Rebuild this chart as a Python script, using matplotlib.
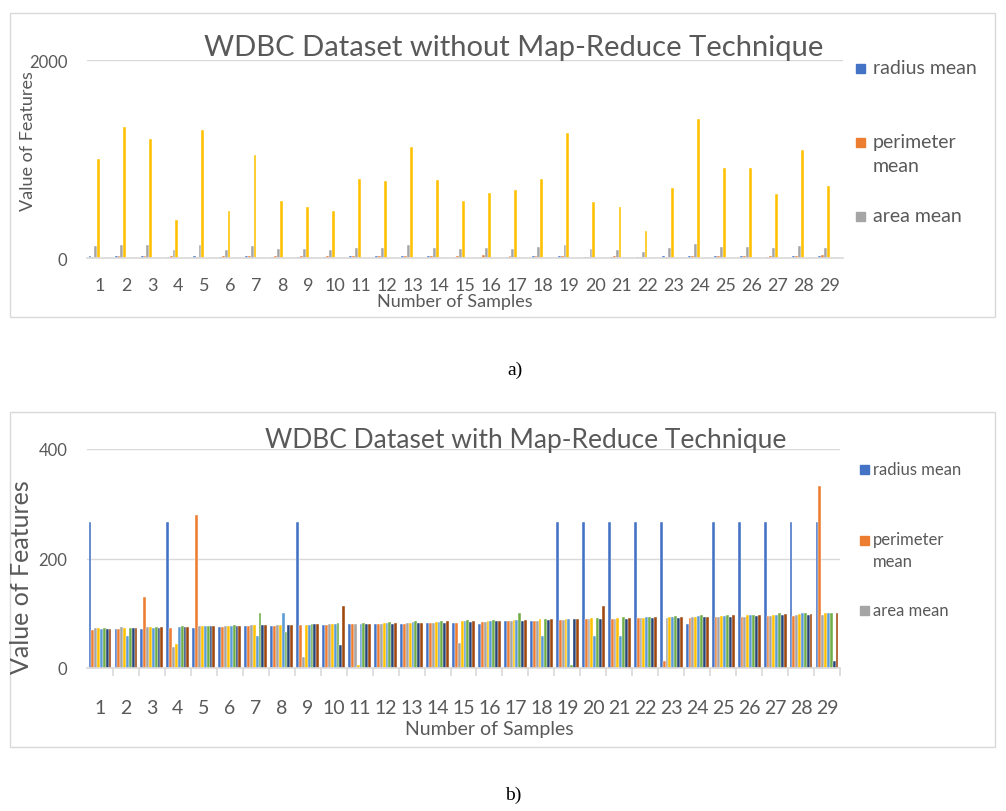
import numpy as np
import matplotlib
matplotlib.use("Agg")
import matplotlib.pyplot as plt
from matplotlib.patches import Rectangle

plt.rcParams["font.family"] = ["Lato", "DejaVu Sans"]

samples = [str(i) for i in range(1, 30)]

# a) without map-reduce (4 features)
radius_a = [18.0, 20.6, 19.7, 11.4, 20.3, 12.5, 18.3, 13.7, 13.0, 12.5, 16.0, 15.8, 19.2, 15.9, 13.7,
            14.5, 14.7, 16.1, 19.8, 13.5, 13.1, 9.5, 15.3, 21.2, 16.7, 17.1, 14.6, 18.6, 15.3]
perim_a = [10.4, 17.8, 21.3, 20.4, 14.3, 15.7, 20.0, 20.8, 21.8, 24.0, 23.2, 17.9, 24.8, 24.0, 22.6,
           27.5, 20.1, 20.7, 22.2, 14.4, 15.7, 12.4, 14.3, 23.0, 21.4, 16.4, 21.5, 20.3, 25.3]
area_a = [122.8, 132.9, 130.0, 77.6, 135.1, 82.6, 119.6, 90.2, 87.5, 84.0, 102.7, 103.6, 132.4, 103.7, 93.6,
          96.7, 94.7, 108.1, 130.0, 87.5, 85.6, 60.3, 102.5, 137.2, 110.0, 116.0, 97.4, 122.1, 102.4]
extra_a = [1001, 1326, 1203, 386, 1297, 477, 1040, 578, 520, 476, 798, 781, 1123, 783, 578,
           659, 685, 799, 1260, 566, 520, 274, 704, 1404, 905, 913, 645, 1094, 732]

# b) with map-reduce (8 features)
s1 = [267, 71, 72, 267, 73, 75, 76, 76, 267, 78, 80, 80, 81, 83, 83,
      80, 86, 86, 267, 267, 267, 267, 267, 80, 267, 267, 267, 267, 267]
s2 = [69, 71, 130, 73, 280, 75, 76, 76, 78, 78, 80, 80, 81, 83, 83,
      84, 86, 86, 87, 89, 90, 91, 12, 92, 93, 93, 95, 95, 333]
s3 = [73, 74, 75, 39, 76, 76, 78, 78, 20, 80, 80, 81, 83, 83, 45,
      84, 86, 86, 87, 89, 90, 91, 91, 93, 93, 94, 95, 96, 97]
s4 = [73, 73, 75, 43, 76, 76, 78, 78, 79, 80, 5, 83, 83, 84, 86,
      86, 87, 89, 90, 91, 91, 92, 93, 94, 95, 96, 97, 98, 100]
s5 = [72, 59, 73, 75, 76, 76, 59, 100, 79, 80, 81, 83, 84, 84, 86,
      86, 87, 59, 90, 59, 59, 93, 93, 95, 95, 96, 97, 100, 100]
s6 = [73, 73, 75, 76, 76, 78, 100, 65, 80, 82, 83, 84, 85, 86, 87,
      87, 100, 90, 5, 91, 93, 93, 95, 96, 96, 97, 100, 100, 100]
s7 = [72, 73, 73, 75, 76, 76, 78, 78, 80, 42, 80, 81, 83, 83, 84,
      86, 86, 87, 89, 90, 90, 92, 92, 93, 94, 95, 96, 97, 12]
s8 = [72, 73, 74, 75, 76, 76, 78, 78, 80, 113, 81, 83, 83, 85, 86,
      86, 87, 89, 90, 113, 92, 93, 93, 94, 96, 96, 98, 98, 100]

colors = ["#4472C4", "#ED7D31", "#A5A5A5", "#FFC000", "#5B9BD5", "#70AD47", "#264478", "#9E480E"]
legend_labels = ["radius mean", "perimeter\nmean", "area mean"]
text_c = "#595959"
grid_c = "#D9D9D9"

W, H = 1006, 812
fig = plt.figure(figsize=(W / 100, H / 100), dpi=100)


def fx(px):
    return px / W


def fy(py):
    return 1 - py / H


def style_axis(ax, ymax, yticks):
    ax.set_ylim(0, ymax)
    ax.set_xlim(-0.5, 28.5)
    ax.set_yticks(yticks)
    ax.yaxis.grid(True, color=grid_c, linewidth=1)
    ax.set_axisbelow(True)
    for s in ["top", "right", "left"]:
        ax.spines[s].set_visible(False)
    ax.spines["bottom"].set_color(grid_c)
    ax.spines["bottom"].set_linewidth(1.2)
    ax.tick_params(axis="y", length=0, colors=text_c, labelsize=12, pad=14)
    ax.set_xticks(np.arange(29))


x = np.arange(29)
bw = 0.11

# ---- chart a ----
ax1 = fig.add_axes([fx(87), fy(259), fx(843) - fx(87), fy(61) - fy(259)])
for k, vals in enumerate([radius_a, perim_a, area_a, extra_a]):
    ax1.bar(x - 0.44 + bw * (k + 0.5), vals, width=bw, color=colors[k], edgecolor="white", linewidth=0.3)
style_axis(ax1, 2000, [0, 2000])
ax1.set_xticklabels(samples, fontsize=13, color=text_c)
ax1.tick_params(axis="x", length=0, pad=14)

fig.text(fx(514), fy(48), "WDBC Dataset without Map-Reduce Technique", fontsize=21, color=text_c,
         ha="center", va="center")
fig.text(fx(28), fy(141), "Value of Features", fontsize=13, color=text_c, rotation=90,
         ha="center", va="center")
fig.text(fx(455), fy(302), "Number of Samples", fontsize=13, color=text_c, ha="center", va="center")

# ---- chart b ----
ax2 = fig.add_axes([fx(87), fy(669), fx(840) - fx(87), fy(450) - fy(669)])
for k, vals in enumerate([s1, s2, s3, s4, s5, s6, s7, s8]):
    ax2.bar(x - 0.44 + bw * (k + 0.5), vals, width=bw, color=colors[k], edgecolor="white", linewidth=0.3)
style_axis(ax2, 400, [0, 200, 400])
ax2.set_xticks(np.arange(29) + 0.5, minor=True)
ax2.set_xticklabels(samples, fontsize=14, color=text_c)
ax2.tick_params(axis="x", which="major", length=0, pad=22)
ax2.tick_params(axis="x", which="minor", length=6, color=grid_c, width=1.2)

fig.text(fx(526), fy(441), "WDBC Dataset with Map-Reduce Technique", fontsize=19, color=text_c,
         ha="center", va="center")
fig.text(fx(22), fy(577), "Value of Features", fontsize=18, color=text_c, rotation=90,
         ha="center", va="center")
fig.text(fx(489), fy(730), "Number of Samples", fontsize=14, color=text_c, ha="center", va="center")

# ---- legends ----
for ys, mx, fs in [([69, 143, 217], 856, 14), ([470, 541, 611], 860, 12)]:
    for k, (yy, lab) in enumerate(zip(ys, legend_labels)):
        fig.add_artist(Rectangle((fx(mx), fy(yy + 5)), fx(9), 9 / H, color=colors[k],
                                 transform=fig.transFigure))
        if "\n" in lab:
            fig.text(fx(873), fy(yy - 9), lab, fontsize=fs, color=text_c, ha="left", va="top",
                     linespacing=1.5)
        else:
            fig.text(fx(873), fy(yy), lab, fontsize=fs, color=text_c, ha="left", va="center")

# ---- outer boxes and captions ----
for top, bot in [(14, 318), (413, 748)]:
    fig.add_artist(Rectangle((fx(10), fy(bot)), fx(995) - fx(10), fy(top) - fy(bot), fill=False,
                             edgecolor=grid_c, linewidth=1, transform=fig.transFigure))
fig.text(fx(515), fy(370), "a)", fontsize=14, family="Liberation Serif", ha="center", va="center")
fig.text(fx(513), fy(795), "b)", fontsize=14, family="Liberation Serif", ha="center", va="center")

fig.savefig("out.png", dpi=100)
